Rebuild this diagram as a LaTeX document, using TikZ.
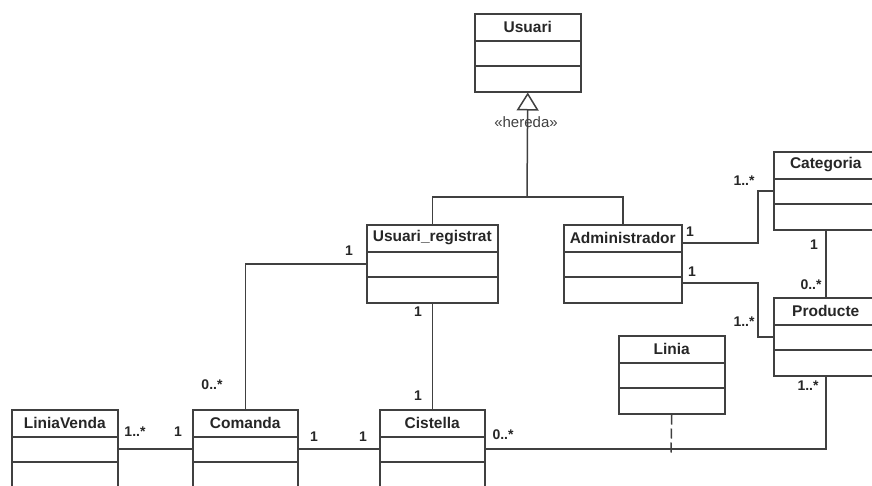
\documentclass[tikz,border=0pt]{standalone}
\usepackage{fontspec}
\setmainfont{Liberation Sans}
\usetikzlibrary{arrows.meta, calc}

\begin{document}
\begin{tikzpicture}[x=1pt, y=-1pt,
	cls/.style={draw=black!75, line width=1.5pt, inner sep=0pt, minimum height=78pt, anchor=north west},
	clsname/.style={font=\fontsize{15.5}{18}\selectfont\bfseries, text=black!85, inner sep=0pt},
	mult/.style={font=\fontsize{14}{16}\selectfont\bfseries, text=black!85, inner sep=0pt},
	assoc/.style={draw=black!75, line width=1.5pt},
	realize/.style={assoc, dash pattern=on 10pt off 4pt}]
	\useasboundingbox (0,0) rectangle (872,485);
	\clip (0,0) rectangle (872,485);

	% classes: name/label/left/top/width
	\foreach \nm/\lbl/\px/\py/\w in {usuari/Usuari/474/13/106, ureg/Usuari\_registrat/366/224/131,
		admin/Administrador/563/224/118, cat/Categoria/773/151/104, prod/Producte/773/297/104,
		linia/Linia/618/335/106, cist/Cistella/379/409/105, coma/Comanda/192/409/105,
		lv/LiniaVenda/11/409/106}{
		\node[cls, minimum width=\w pt] (\nm) at (\px,\py) {};
		\node[clsname] (\nm-t) at ([yshift=-14pt]\nm.north) {\lbl};
		\draw[assoc] ([yshift=-28pt]\nm.north west) -- ([yshift=-28pt]\nm.north east);
		\draw[assoc] ([yshift=-53pt]\nm.north west) -- ([yshift=-53pt]\nm.north east);
	}

	% herencia
	\coordinate (gen) at (527,197);
	\draw[assoc] (ureg.north) |- (gen) -| (admin.north);
	\draw[assoc, -{Triangle[open, length=18pt, width=22pt]}] (gen) -- (usuari.south);
	\node[font=\fontsize{15}{18}\selectfont, text=black!75, inner sep=0pt] (hereda) at (526,122) {«hereda»};

	% associacions
	\draw[assoc] (ureg.west) -| (coma.north);
	\draw[assoc] (ureg.south) -- (cist.north);
	\draw[assoc] (lv.east) -- (coma.west);
	\draw[assoc] (coma.east) -- (cist.west);
	\draw[assoc] (cist.east) -| (prod.south);
	\draw[assoc] (cat.south) -- (prod.north);
	\draw[assoc] ([yshift=-19pt]admin.north east) -| ([xshift=-15pt]cat.west) -- (cat.west);
	\draw[assoc] ([yshift=-59pt]admin.north east) -| ([xshift=-15pt]prod.west) -- (prod.west);
	\coordinate (lend) at (671,453);
	\draw[realize] (linia.south) -- (lend);

	% multiplicitats
	\node[mult] (m1) at (349,251) {1};
	\node[mult] (m2) at (212,385) {0..*};
	\node[mult] (m3) at (418,312) {1};
	\node[mult] (m4) at (418,396) {1};
	\node[mult] (m5) at (135,432) {1..*};
	\node[mult] (m6) at (178,432) {1};
	\node[mult] (m7) at (314,437) {1};
	\node[mult] (m8) at (363,437) {1};
	\node[mult] (m9) at (503,435) {0..*};
	\node[mult] (m10) at (808,386) {1..*};
	\node[mult] (m11) at (690,232) {1};
	\node[mult] (m12) at (744,181) {1..*};
	\node[mult] (m13) at (692,272) {1};
	\node[mult] (m14) at (744,322) {1..*};
	\node[mult] (m15) at (814,245) {1};
	\node[mult] (m16) at (811,285) {0..*};
\end{tikzpicture}
\end{document}
